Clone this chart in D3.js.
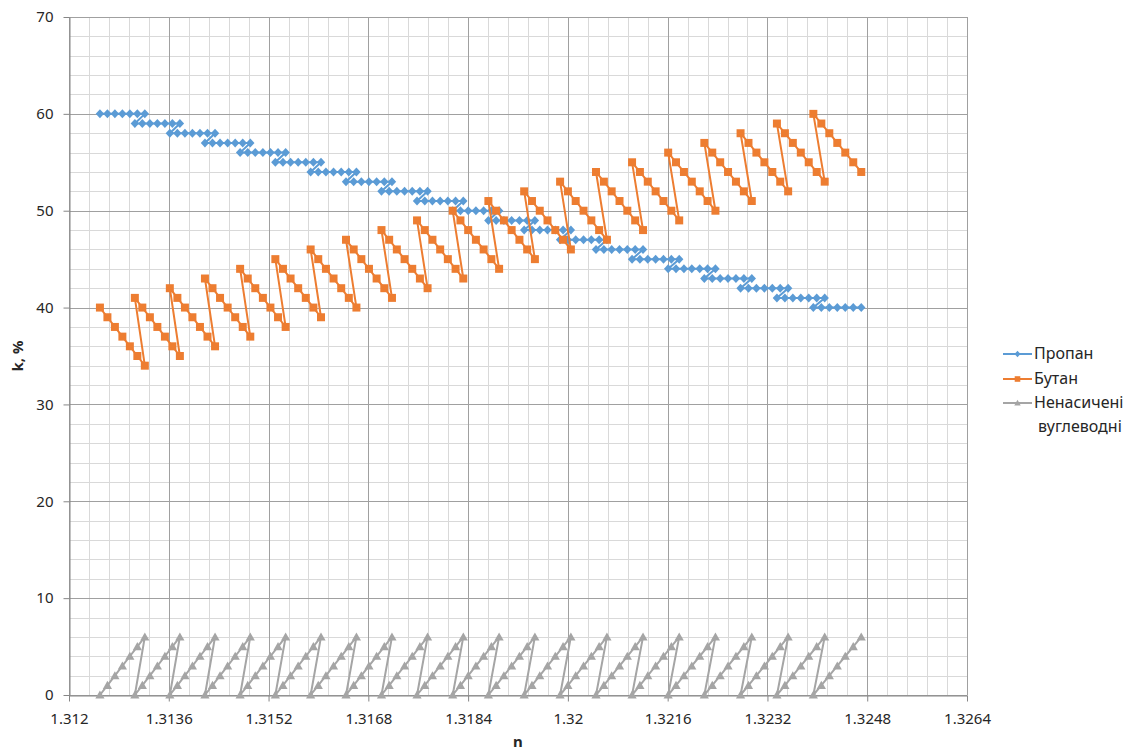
<!DOCTYPE html>
<html>
<head>
<meta charset="utf-8">
<script src="https://cdn.jsdelivr.net/npm/d3@7"></script>
<style>
  body { margin: 0; background: #fff; }
  text { font-family: "Noto Sans", "Open Sans", sans-serif; fill: #262626; }
</style>
</head>
<body>
<div id="chart"></div>
<script>
// refractive index n, one row per propane level (7 points each)
let nRows = [
  [1.312496, 1.312616, 1.312736, 1.312856, 1.312976, 1.313096, 1.313216],
  [1.313056, 1.313176, 1.313297, 1.313417, 1.313538, 1.313658, 1.313778],
  [1.313617, 1.313738, 1.313859, 1.313979, 1.314100, 1.314221, 1.314342],
  [1.314180, 1.314301, 1.314422, 1.314544, 1.314665, 1.314786, 1.314907],
  [1.314744, 1.314866, 1.314987, 1.315109, 1.315230, 1.315352, 1.315474],
  [1.315309, 1.315431, 1.315553, 1.315675, 1.315797, 1.315919, 1.316041],
  [1.315875, 1.315997, 1.316120, 1.316242, 1.316365, 1.316487, 1.316609],
  [1.316442, 1.316565, 1.316688, 1.316810, 1.316933, 1.317056, 1.317179],
  [1.317011, 1.317134, 1.317257, 1.317381, 1.317504, 1.317627, 1.317750],
  [1.317581, 1.317705, 1.317828, 1.317952, 1.318075, 1.318199, 1.318323],
  [1.318153, 1.318277, 1.318401, 1.318525, 1.318649, 1.318773, 1.318897],
  [1.318725, 1.318849, 1.318974, 1.319098, 1.319223, 1.319347, 1.319471],
  [1.319299, 1.319424, 1.319549, 1.319673, 1.319798, 1.319923, 1.320048],
  [1.319875, 1.320000, 1.320125, 1.320251, 1.320376, 1.320501, 1.320626],
  [1.320451, 1.320577, 1.320702, 1.320828, 1.320953, 1.321079, 1.321205],
  [1.321029, 1.321155, 1.321281, 1.321407, 1.321533, 1.321659, 1.321785],
  [1.321608, 1.321734, 1.321861, 1.321987, 1.322114, 1.322240, 1.322366],
  [1.322188, 1.322315, 1.322442, 1.322568, 1.322695, 1.322822, 1.322949],
  [1.322769, 1.322896, 1.323023, 1.323151, 1.323278, 1.323405, 1.323532],
  [1.323352, 1.323480, 1.323607, 1.323735, 1.323862, 1.323990, 1.324118],
  [1.323936, 1.324064, 1.324192, 1.324320, 1.324448, 1.324576, 1.324704]
];

let propane = [
  [60,60,60,60,60,60,60], [59,59,59,59,59,59,59], [58,58,58,58,58,58,58],
  [57,57,57,57,57,57,57], [56,56,56,56,56,56,56], [55,55,55,55,55,55,55],
  [54,54,54,54,54,54,54], [53,53,53,53,53,53,53], [52,52,52,52,52,52,52],
  [51,51,51,51,51,51,51], [50,50,50,50,50,50,50], [49,49,49,49,49,49,49],
  [48,48,48,48,48,48,48], [47,47,47,47,47,47,47], [46,46,46,46,46,46,46],
  [45,45,45,45,45,45,45], [44,44,44,44,44,44,44], [43,43,43,43,43,43,43],
  [42,42,42,42,42,42,42], [41,41,41,41,41,41,41], [40,40,40,40,40,40,40]
];

let butane = [
  [40,39,38,37,36,35,34], [41,40,39,38,37,36,35], [42,41,40,39,38,37,36],
  [43,42,41,40,39,38,37], [44,43,42,41,40,39,38], [45,44,43,42,41,40,39],
  [46,45,44,43,42,41,40], [47,46,45,44,43,42,41], [48,47,46,45,44,43,42],
  [49,48,47,46,45,44,43], [50,49,48,47,46,45,44], [51,50,49,48,47,46,45],
  [52,51,50,49,48,47,46], [53,52,51,50,49,48,47], [54,53,52,51,50,49,48],
  [55,54,53,52,51,50,49], [56,55,54,53,52,51,50], [57,56,55,54,53,52,51],
  [58,57,56,55,54,53,52], [59,58,57,56,55,54,53], [60,59,58,57,56,55,54]
];

let unsaturated = [
  [0,1,2,3,4,5,6], [0,1,2,3,4,5,6], [0,1,2,3,4,5,6], [0,1,2,3,4,5,6],
  [0,1,2,3,4,5,6], [0,1,2,3,4,5,6], [0,1,2,3,4,5,6], [0,1,2,3,4,5,6],
  [0,1,2,3,4,5,6], [0,1,2,3,4,5,6], [0,1,2,3,4,5,6], [0,1,2,3,4,5,6],
  [0,1,2,3,4,5,6], [0,1,2,3,4,5,6], [0,1,2,3,4,5,6], [0,1,2,3,4,5,6],
  [0,1,2,3,4,5,6], [0,1,2,3,4,5,6], [0,1,2,3,4,5,6], [0,1,2,3,4,5,6],
  [0,1,2,3,4,5,6]
];

let xTicks = [1.312, 1.3136, 1.3152, 1.3168, 1.3184, 1.32, 1.3216, 1.3232, 1.3248, 1.3264];
let xTickLabels = ["1.312", "1.3136", "1.3152", "1.3168", "1.3184", "1.32", "1.3216", "1.3232", "1.3248", "1.3264"];
let yTicks = [0, 10, 20, 30, 40, 50, 60, 70];
let seriesNames = ["Пропан", "Бутан", "Ненасичені вуглеводні"];
let colors = ["#5B9BD5", "#ED7D31", "#A5A5A5"];

let W = 1129, H = 753;
let margin = { top: 17, right: 162, bottom: 58, left: 69 };

let svg = d3.select("#chart").append("svg")
    .attr("width", W)
    .attr("height", H);

let x = d3.scaleLinear().domain([1.312, 1.3264]).range([margin.left, W - margin.right]);
let y = d3.scaleLinear().domain([0, 70]).range([H - margin.bottom, margin.top]);

// minor grid (5 per major interval)
let xMinor = d3.range(0, 46).map(function (i) { return 1.312 + i * 0.00032; });
let yMinor = d3.range(0, 36).map(function (i) { return i * 2; });

let grid = svg.append("g");
grid.selectAll(".vmin").data(xMinor).enter().append("line")
    .attr("x1", function (d) { return Math.round(x(d)) + 0.5; })
    .attr("x2", function (d) { return Math.round(x(d)) + 0.5; })
    .attr("y1", y(0)).attr("y2", y(70))
    .attr("stroke", "#d9d9d9");
grid.selectAll(".hmin").data(yMinor).enter().append("line")
    .attr("y1", function (d) { return Math.round(y(d)) + 0.5; })
    .attr("y2", function (d) { return Math.round(y(d)) + 0.5; })
    .attr("x1", x.range()[0]).attr("x2", x.range()[1])
    .attr("stroke", "#d9d9d9");
grid.selectAll(".vmaj").data(xTicks).enter().append("line")
    .attr("x1", function (d) { return Math.round(x(d)) + 0.5; })
    .attr("x2", function (d) { return Math.round(x(d)) + 0.5; })
    .attr("y1", y(0)).attr("y2", y(70))
    .attr("stroke", "#a0a0a0");
grid.selectAll(".hmaj").data(yTicks).enter().append("line")
    .attr("y1", function (d) { return Math.round(y(d)) + 0.5; })
    .attr("y2", function (d) { return Math.round(y(d)) + 0.5; })
    .attr("x1", x.range()[0]).attr("x2", x.range()[1])
    .attr("stroke", "#a0a0a0");

// axes
let xAxis = d3.axisBottom(x).tickValues(xTicks)
    .tickFormat(function (d, i) { return xTickLabels[i]; })
    .tickSizeInner(6).tickSizeOuter(0).tickPadding(12);
let gx = svg.append("g")
    .attr("transform", "translate(0," + (Math.round(y(0)) + 0.5) + ")")
    .call(xAxis);
let yAxis = d3.axisLeft(y).tickValues(yTicks)
    .tickSizeInner(6).tickSizeOuter(0).tickPadding(10);
let gy = svg.append("g")
    .attr("transform", "translate(" + (Math.round(x(1.312)) + 0.5) + ",0)")
    .call(yAxis);
[gx, gy].forEach(function (g) {
    g.selectAll("path, line").attr("stroke", "#868686");
    g.selectAll("text").style("font-size", "15px").attr("fill", "#262626");
});

svg.append("text")
    .attr("x", (x.range()[0] + x.range()[1]) / 2)
    .attr("y", 747)
    .attr("text-anchor", "middle")
    .style("font-size", "15px").style("font-weight", "bold")
    .text("n");
svg.append("text")
    .attr("transform", "translate(23," + (y(35)) + ") rotate(-90)")
    .attr("text-anchor", "middle")
    .style("font-size", "15px").style("font-weight", "bold")
    .text("k, %");

// markers
let shapes = [
    "M0,-4.5L4.2,0L0,4.5L-4.2,0Z",
    "M-4,-4H4V4H-4Z",
    "M0,-4.5L4.6,3.6H-4.6Z"
];

let allSeries = [propane, butane, unsaturated];
let plot = svg.append("g");
allSeries.forEach(function (rows, s) {
    let pts = [];
    rows.forEach(function (row, i) {
        row.forEach(function (v, j) { pts.push([nRows[i][j], v]); });
    });
    let line = d3.line()
        .x(function (d) { return x(d[0]); })
        .y(function (d) { return y(d[1]); });
    let g = plot.append("g");
    g.append("path").datum(pts)
        .attr("d", line)
        .attr("fill", "none")
        .attr("stroke", colors[s])
        .attr("stroke-width", 2)
        .attr("stroke-linejoin", "round");
    g.selectAll("path.m").data(pts).enter().append("path")
        .attr("class", "m")
        .attr("d", shapes[s])
        .attr("transform", function (d) { return "translate(" + x(d[0]) + "," + y(d[1]) + ")"; })
        .attr("fill", colors[s]);
});

// legend
let legendRows = [
    { y: 354, label: ["Пропан"] },
    { y: 379, label: ["Бутан"] },
    { y: 403, label: ["Ненасичені", "вуглеводні"] }
];
let legend = svg.append("g");
legendRows.forEach(function (r, i) {
    legend.append("line")
        .attr("x1", 1003).attr("x2", 1032)
        .attr("y1", r.y).attr("y2", r.y)
        .attr("stroke", colors[i]).attr("stroke-width", 2);
    legend.append("path")
        .attr("d", shapes[i])
        .attr("transform", "translate(1017.5," + r.y + ") scale(0.7)")
        .attr("fill", colors[i]);
    r.label.forEach(function (t, k) {
        legend.append("text")
            .attr("x", k === 0 ? 1034 : 1038)
            .attr("y", r.y + 5 + k * 24)
            .style("font-size", "16px")
            .text(t);
    });
});
</script>
</body>
</html>
